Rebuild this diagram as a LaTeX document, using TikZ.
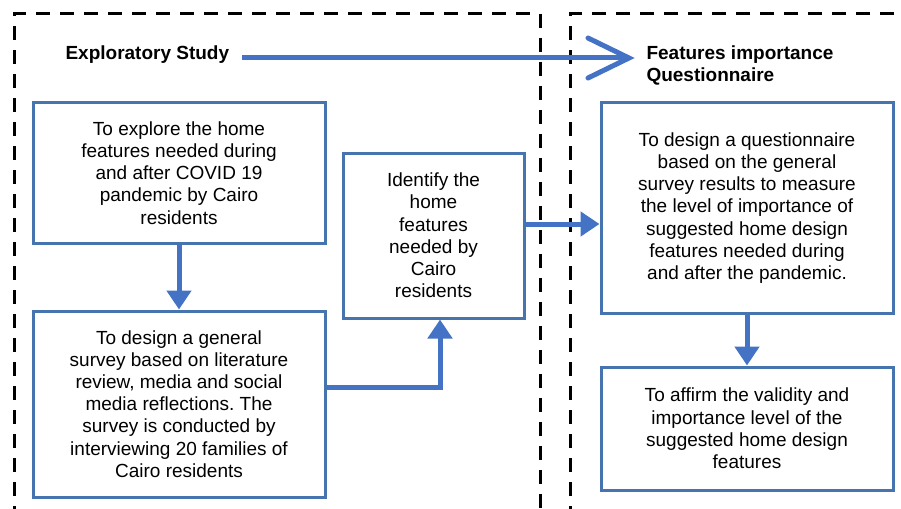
\documentclass[tikz,border=0pt]{standalone}
\usepackage{fontspec}
\setmainfont{Liberation Sans}
\usetikzlibrary{arrows.meta,calc}
\definecolor{boxblue}{HTML}{4674AE}
\definecolor{arrblue}{HTML}{4472C4}
\frenchspacing
\begin{document}
\begin{tikzpicture}[x=1pt,y=-1pt,
  frame/.style={draw=black,line width=3pt,dash pattern=on 14pt off 10pt},
  stepbox/.style={draw=boxblue,line width=3pt,align=center,font=\fontsize{19}{22.2}\selectfont\frenchspacing,inner sep=0pt},
  conn/.style={draw=arrblue,line width=5pt,-{Triangle[length=19pt,width=24pt]}},
  title/.style={font=\fontsize{19}{22}\selectfont\bfseries,align=left,anchor=west}]
\useasboundingbox (0,0) rectangle (901,508);
\draw[frame] (14,520) -- (14,14) -- (540,14) -- (540,520);
\draw[frame] (570,520) -- (570,14) -- (915,14);
\node[title] (t1) at (62,55) {Exploratory Study};
\node[title] (t2) at (643,65) {Features importance\\Questionnaire};
\coordinate (chev) at (629,58);
\coordinate (s1) at (242,58);
\draw[arrblue,line width=5pt] (s1) -- (chev);
\draw[arrblue,line width=5pt,line join=miter,line cap=round] ($(chev)+(-41,-20)$) -- (chev) -- ($(chev)+(-41,20)$);
\node[stepbox,minimum width=292pt,minimum height=140pt] (A) at (179,173) {To explore the home\\features needed during\\and after COVID 19\\pandemic by Cairo\\residents};
\node[stepbox,minimum width=292pt,minimum height=186pt] (B) at (179,404) {To design a general\\survey based on literature\\review, media and social\\media reflections. The\\survey is conducted by\\interviewing 20 families of\\Cairo residents};
\node[stepbox,minimum width=181pt,minimum height=165pt] (C) at (433.5,235.5) {Identify the\\home\\features\\needed by\\Cairo\\residents};
\node[stepbox,minimum width=292pt,minimum height=210pt] (D) at (747,208) {To design a questionnaire\\based on the general\\survey results to measure\\the level of importance of\\suggested home design\\features needed during\\and after the pandemic.};
\node[stepbox,minimum width=292pt,minimum height=123pt] (E) at (747,428.5) {To affirm the validity and\\importance level of the\\suggested home design\\features};
\coordinate (bc) at (440,387);
\coordinate (cd) at (440,224);
\draw[conn] (A.south) -- (B.north);
\draw[conn] (B.east |- bc) -- (bc) -- (C.south -| bc);
\draw[conn] (C.east |- cd) -- (D.west |- cd);
\draw[conn] (D.south) -- (E.north);
\end{tikzpicture}
\end{document}
